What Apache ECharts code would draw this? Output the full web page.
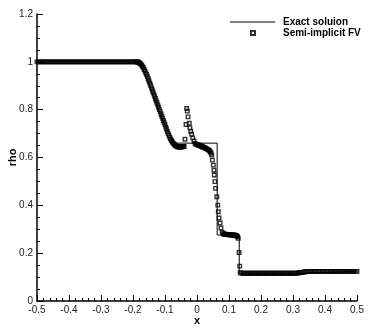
<!DOCTYPE html>
<html>
<head>
<meta charset="utf-8">
<script src="https://cdn.jsdelivr.net/npm/echarts@6/dist/echarts.min.js"></script>
<style>
  html, body { margin: 0; padding: 0; background: #fff; }
  #chart { width: 374px; height: 332px; }
</style>
</head>
<body>
<div id="chart"></div>
<script>
// exact solution (polyline)
const exactX   = [-0.5, -0.178, -0.15, -0.12, -0.09, -0.072, 0.063, 0.063, 0.132, 0.132, 0.33, 0.33, 0.5];
const exactRho = [1, 1, 0.905, 0.80, 0.705, 0.66, 0.66, 0.276, 0.276, 0.116, 0.116, 0.124, 0.124];

// semi-implicit FV
const fvLeft = [
  [-0.500,1],[-0.495,1],[-0.490,1],[-0.485,1],[-0.480,1],[-0.475,1],[-0.470,1],[-0.465,1],[-0.460,1],[-0.455,1],
  [-0.450,1],[-0.445,1],[-0.440,1],[-0.435,1],[-0.430,1],[-0.425,1],[-0.420,1],[-0.415,1],[-0.410,1],[-0.405,1],
  [-0.400,1],[-0.395,1],[-0.390,1],[-0.385,1],[-0.380,1],[-0.375,1],[-0.370,1],[-0.365,1],[-0.360,1],[-0.355,1],
  [-0.350,1],[-0.345,1],[-0.340,1],[-0.335,1],[-0.330,1],[-0.325,1],[-0.320,1],[-0.315,1],[-0.310,1],[-0.305,1],
  [-0.300,1],[-0.295,1],[-0.290,1],[-0.285,1],[-0.280,1],[-0.275,1],[-0.270,1],[-0.265,1],[-0.260,1],[-0.255,1],
  [-0.250,1],[-0.245,1],[-0.240,1],[-0.235,1],[-0.230,1],[-0.225,1],[-0.220,1],[-0.215,1],[-0.210,1],[-0.205,1],
  [-0.200,1],[-0.195,1]
];
const fvRarefaction = [
  [-0.19,1.000],[-0.1875,0.9995],[-0.185,0.999],[-0.1825,0.998],[-0.18,0.996],[-0.1775,0.993],[-0.175,0.990],
  [-0.1725,0.985],[-0.17,0.980],[-0.1675,0.975],[-0.165,0.968],[-0.1625,0.961],[-0.16,0.953],[-0.1575,0.947],
  [-0.155,0.938],[-0.1525,0.929],[-0.15,0.920],[-0.1475,0.911],[-0.145,0.902],[-0.1425,0.892],[-0.14,0.883],
  [-0.1375,0.874],[-0.135,0.865],[-0.1325,0.856],[-0.13,0.847],[-0.1275,0.837],[-0.125,0.828],[-0.1225,0.819],
  [-0.12,0.810],[-0.1175,0.801],[-0.115,0.792],[-0.1125,0.782],[-0.11,0.773],[-0.1075,0.764],[-0.105,0.755],
  [-0.1025,0.746],[-0.1,0.737],[-0.0975,0.727],[-0.095,0.718],[-0.0925,0.709],[-0.09,0.700],[-0.0875,0.692],
  [-0.085,0.684],[-0.0825,0.677],[-0.08,0.671],[-0.0775,0.666],[-0.075,0.661],[-0.0725,0.657],[-0.07,0.653],
  [-0.0675,0.650],[-0.065,0.648],[-0.0625,0.646],[-0.06,0.645],[-0.0575,0.644],[-0.055,0.644],[-0.0525,0.644],
  [-0.05,0.644],[-0.0475,0.645],[-0.045,0.645],[-0.0425,0.646],[-0.04,0.646]
];
const fvSpike = [
  [-0.0375,0.676],[-0.0344,0.738],[-0.0322,0.805],[-0.0303,0.794],[-0.028,0.770],[-0.0241,0.743],
  [-0.022,0.724],[-0.0197,0.710],[-0.0166,0.697],[-0.0134,0.682],[-0.0094,0.669],[-0.006,0.659]
];
const fvContact = [
  [-0.0035,0.656],[-0.001,0.654],[0.0015,0.653],[0.004,0.652],[0.0065,0.651],[0.009,0.650],[0.0115,0.648],
  [0.014,0.647],[0.0165,0.645],[0.019,0.644],[0.0215,0.642],[0.024,0.641],[0.0265,0.639],[0.029,0.637],
  [0.0315,0.635],[0.034,0.633],[0.0365,0.631],[0.039,0.628],[0.0415,0.624],[0.044,0.618],[0.046,0.610],
  [0.048,0.589],[0.051,0.568],[0.053,0.547],[0.054,0.527],[0.056,0.499],[0.058,0.471],[0.062,0.436],
  [0.065,0.401],[0.0666,0.373],[0.0688,0.347],[0.072,0.326],[0.075,0.305],[0.079,0.287]
];
const fvPlateau = [
  [0.082,0.281],[0.0845,0.280],[0.087,0.279],[0.0895,0.279],[0.092,0.278],[0.0945,0.278],[0.097,0.278],
  [0.0995,0.277],[0.102,0.277],[0.1045,0.277],[0.107,0.276],[0.1095,0.276],[0.112,0.276],[0.1145,0.276],
  [0.117,0.275],[0.1195,0.275],[0.122,0.274],[0.1245,0.272]
];
const fvShock = [[0.127,0.268],[0.129,0.262],[0.1315,0.203],[0.1335,0.146],[0.135,0.118]];
const fvRight = [
  [0.140,0.116],[0.145,0.116],[0.150,0.116],[0.155,0.116],[0.160,0.116],[0.165,0.116],[0.170,0.116],
  [0.175,0.116],[0.180,0.116],[0.185,0.116],[0.190,0.116],[0.195,0.116],[0.200,0.116],[0.205,0.116],
  [0.210,0.116],[0.215,0.116],[0.220,0.116],[0.225,0.116],[0.230,0.116],[0.235,0.116],[0.240,0.116],
  [0.245,0.116],[0.250,0.116],[0.255,0.116],[0.260,0.116],[0.265,0.116],[0.270,0.116],[0.275,0.116],
  [0.280,0.116],[0.285,0.116],[0.290,0.116],[0.295,0.116],[0.300,0.116],[0.305,0.116],[0.310,0.116],
  [0.315,0.117],[0.320,0.118],[0.325,0.119],[0.330,0.120],[0.335,0.121],[0.340,0.122],[0.345,0.123],
  [0.350,0.124],[0.355,0.124],[0.360,0.124],[0.365,0.124],[0.370,0.124],[0.375,0.124],[0.380,0.124],
  [0.385,0.124],[0.390,0.124],[0.395,0.124],[0.400,0.124],[0.405,0.124],[0.410,0.124],[0.415,0.124],
  [0.420,0.124],[0.425,0.124],[0.430,0.124],[0.435,0.124],[0.440,0.124],[0.445,0.124],[0.450,0.124],
  [0.455,0.124],[0.460,0.124],[0.465,0.124],[0.470,0.124],[0.475,0.124],[0.480,0.124],[0.485,0.124],
  [0.490,0.124],[0.495,0.124],[0.500,0.124]
];

const font = 'Liberation Sans';
const chart = echarts.init(document.getElementById('chart'));

const fvData = [].concat(fvLeft, fvRarefaction, fvSpike, fvContact, fvPlateau, fvShock, fvRight);
const exactData = exactX.map((x, i) => [x, exactRho[i]]);

const labelStyle = { fontSize: 10, color: '#222', fontFamily: font };
const nameStyle = { fontSize: 11, fontWeight: 'bold', color: '#000', fontFamily: font };

const option = {
    animation: false,
    backgroundColor: '#fff',
    // v6 grows the margins for labels by default, keep the grid where it is
    grid: { left: 37, right: 17, top: 14, bottom: 31, outerBoundsMode: 'none', containLabel: false },
    legend: [
        {
            data: [{ name: 'Exact soluion', icon: 'rect' }],
            left: 230, top: 17, padding: 0,
            itemWidth: 45, itemHeight: 1,
            itemStyle: { color: '#000' },
            textStyle: { fontSize: 10, fontWeight: 'bold', color: '#000', fontFamily: font, padding: [0, 0, 0, 3] }
        },
        {
            data: ['Semi-implicit FV'],
            left: 250, top: 28, padding: 0,
            itemWidth: 4, itemHeight: 4,
            textStyle: { fontSize: 10, fontWeight: 'bold', color: '#000', fontFamily: font, padding: [0, 0, 0, 23] }
        }
    ],
    xAxis: {
        type: 'value', min: -0.5, max: 0.5, interval: 0.1,
        name: 'x', nameLocation: 'middle', nameGap: 14, nameMoveOverlap: false, nameTextStyle: nameStyle,
        axisLine: { show: true, onZero: false, lineStyle: { color: '#000', width: 1.5 } },
        axisTick: { show: true, inside: true, length: 6, lineStyle: { color: '#000', width: 1 } },
        minorTick: { show: true, splitNumber: 5, length: 3, lineStyle: { color: '#000', width: 1 } },
        axisLabel: Object.assign({ margin: 4 }, labelStyle),
        splitLine: { show: false }
    },
    yAxis: {
        type: 'value', min: 0, max: 1.2, interval: 0.2,
        name: 'rho', nameLocation: 'middle', nameGap: 19, nameMoveOverlap: false, nameTextStyle: nameStyle,
        axisLine: { show: true, onZero: false, lineStyle: { color: '#000', width: 1.5 } },
        axisTick: { show: true, inside: true, length: 6, lineStyle: { color: '#000', width: 1 } },
        minorTick: { show: true, splitNumber: 4, length: 3, lineStyle: { color: '#000', width: 1 } },
        axisLabel: Object.assign({ margin: 4 }, labelStyle),
        splitLine: { show: false }
    },
    series: [
        {
            name: 'Semi-implicit FV',
            type: 'scatter',
            data: fvData,
            symbol: 'rect',
            symbolSize: 3.5,
            itemStyle: { color: 'rgba(255,255,255,0)', borderColor: '#000', borderWidth: 1.4 },
            z: 2
        },
        {
            name: 'Exact soluion',
            type: 'line',
            data: exactData,
            symbol: 'none',
            lineStyle: { color: '#000', width: 1 },
            itemStyle: { color: '#000' },
            z: 3
        }
    ]
};
chart.setOption(option);
</script>
</body>
</html>
